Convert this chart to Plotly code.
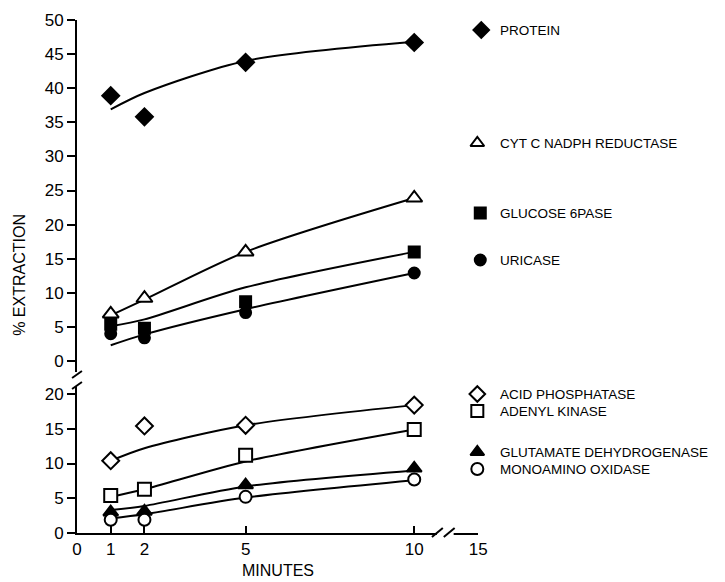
import plotly.graph_objects as go

# ---------------- data ----------------
minutes = [1, 2, 5, 10]
x_tick_vals = [0, 1, 2, 5, 10]
x_tick_text = ["0", "1", "2", "5", "10", "15"]

labels_upper = ["PROTEIN", "CYT C NADPH REDUCTASE", "GLUCOSE 6PASE", "URICASE"]
protein = [38.9, 35.8, 43.8, 46.7]
protein_fit = [36.9, 39.3, 44.0, 46.8]
cyt_c = [6.9, 9.2, 16.0, 23.9]
cyt_c_fit = [6.7, 9.0, 16.0, 23.9]
glucose6pase = [5.4, 4.8, 8.7, 16.0]
glucose6pase_fit = [5.1, 6.1, 10.8, 16.0]
uricase = [4.0, 3.4, 7.1, 12.9]
uricase_fit = [2.3, 3.9, 7.6, 12.9]

labels_lower = ["ACID PHOSPHATASE", "ADENYL KINASE", "GLUTAMATE DEHYDROGENASE", "MONOAMINO OXIDASE"]
acid_phosphatase = [10.4, 15.4, 15.5, 18.4]
acid_phosphatase_fit = [10.4, 12.2, 15.5, 18.4]
adenyl_kinase = [5.4, 6.3, 11.2, 14.9]
adenyl_kinase_fit = [5.2, 6.3, 10.3, 14.9]
glutamate_dh = [3.0, 3.1, 6.9, 9.3]
glutamate_dh_fit = [3.3, 3.9, 6.7, 9.0]
monoamino_oxidase = [1.9, 1.9, 5.2, 7.7]
monoamino_oxidase_fit = [2.1, 2.7, 5.1, 7.6]

# ---------------- geometry helpers (pixels -> paper) ----------------
FIG_W, FIG_H = 725, 582
L, R, T, B = 77, 720, 20, 533      # full plotting area (key lives on the right)
AX_R = 484                          # right end of the real x axis
W, H = R - L, B - T
X_MAX = 11.9                        # axis position used for the "15" tick after the break
def px(x):
    return (x - L) / W
def py(y):
    return (B - y) / H

FONT = "Liberation Sans, Arial, sans-serif"

fig = go.Figure()

upper_series = [
    (protein, protein_fit, "diamond", "black", 13),
    (cyt_c, cyt_c_fit, "triangle-up", "white", 14),
    (glucose6pase, glucose6pase_fit, "square", "black", 11),
    (uricase, uricase_fit, "circle", "black", 11),
]
lower_series = [
    (acid_phosphatase, acid_phosphatase_fit, "diamond", "white", 13),
    (adenyl_kinase, adenyl_kinase_fit, "square", "white", 13),
    (glutamate_dh, glutamate_dh_fit, "triangle-up", "black", 13),
    (monoamino_oxidase, monoamino_oxidase_fit, "circle", "white", 12),
]

for series, yax in ((upper_series, "y"), (lower_series, "y2")):
    for vals, fit, sym, fill, size in series:
        fig.add_trace(go.Scatter(
            x=minutes, y=fit, mode="lines", xaxis="x", yaxis=yax,
            line=dict(color="black", width=2, shape="spline", smoothing=0.8),
            hoverinfo="skip", showlegend=False))
    for vals, fit, sym, fill, size in series:
        fig.add_trace(go.Scatter(
            x=minutes, y=vals, mode="markers", xaxis="x", yaxis=yax,
            marker=dict(symbol=sym, size=size, color=fill, opacity=1,
                        line=dict(color="black", width=2)),
            cliponaxis=False, showlegend=False))

# ---------------- key (markers + labels at the right) ----------------
key_rows_px = [30, 143, 213, 260, 394, 411, 452, 469]
key_marker_x_px = [487, 483, 486, 486, 483, 483, 483, 483]
key_text_x_px = 504
all_labels = labels_upper + labels_lower
all_series = upper_series + lower_series
fig.add_trace(go.Scatter(
    x=key_marker_x_px, y=key_rows_px,
    mode="markers", xaxis="x3", yaxis="y3",
    marker=dict(symbol=[s[2] for s in all_series],
                size=[min(s[4], 12) for s in all_series],
                color=[s[3] for s in all_series], opacity=1,
                line=dict(color="black", width=2)),
    cliponaxis=False, showlegend=False, hoverinfo="skip"))

annotations = []
for lab, yy in zip(all_labels, key_rows_px):
    annotations.append(dict(
        text=lab, xref="paper", yref="paper", x=px(key_text_x_px), y=py(yy),
        xanchor="left", yanchor="middle", showarrow=False,
        font=dict(family=FONT, size=13.5, color="black")))

annotations.append(dict(
    text="% EXTRACTION", xref="paper", yref="paper", x=px(18), y=py(275),
    textangle=-90, showarrow=False, xanchor="center", yanchor="middle",
    font=dict(family=FONT, size=16, color="black")))
annotations.append(dict(
    text="MINUTES", xref="paper", yref="paper", x=px(281), y=py(570),
    showarrow=False, xanchor="center", yanchor="middle",
    font=dict(family=FONT, size=16, color="black")))

line_k = dict(color="black", width=2)
shapes = [
    # y-axis break
    dict(type="line", xref="paper", yref="paper", x0=px(76), x1=px(76), y0=py(361), y1=py(372), line=line_k),
    dict(type="line", xref="paper", yref="paper", x0=px(72), y0=py(378), x1=px(82), y1=py(371), line=line_k),
    dict(type="line", xref="paper", yref="paper", x0=px(72), y0=py(389), x1=px(82), y1=py(382), line=line_k),
    dict(type="line", xref="paper", yref="paper", x0=px(76), x1=px(76), y0=py(386), y1=py(394), line=line_k),
    # x-axis break
    dict(type="rect", xref="paper", yref="paper", x0=px(442), x1=px(459), y0=py(529), y1=py(537),
         fillcolor="white", line=dict(width=0)),
    dict(type="line", xref="paper", yref="paper", x0=px(437), y0=py(537), x1=px(448), y1=py(528), line=line_k),
    dict(type="line", xref="paper", yref="paper", x0=px(449), y0=py(537), x1=px(460), y1=py(528), line=line_k),
]

tickfont = dict(family=FONT, size=17, color="black")
fig.update_layout(
    width=FIG_W, height=FIG_H, autosize=False,
    margin=dict(l=L, r=FIG_W - R, t=T, b=FIG_H - B, pad=0),
    paper_bgcolor="white", plot_bgcolor="rgba(0,0,0,0)",
    showlegend=False,
    xaxis=dict(domain=[0, px(AX_R)], range=[0, X_MAX], anchor="y2",
               tickvals=x_tick_vals + [X_MAX], ticktext=x_tick_text,
               ticks="inside", ticklen=7, tickwidth=2, tickcolor="black",
               showline=True, linewidth=2, linecolor="black",
               showgrid=False, zeroline=False, tickfont=tickfont, fixedrange=True),
    yaxis=dict(domain=[py(361), 1], range=[0, 50], anchor="x",
               tickvals=list(range(0, 51, 5)),
               ticks="outside", ticklen=8, tickwidth=2, tickcolor="black",
               showline=True, linewidth=2, linecolor="black",
               showgrid=False, zeroline=False, tickfont=tickfont, fixedrange=True),
    yaxis2=dict(domain=[0, py(394)], range=[0, 20], anchor="x",
                tickvals=list(range(0, 21, 5)),
                ticks="outside", ticklen=8, tickwidth=2, tickcolor="black",
                showline=True, linewidth=2, linecolor="black",
                showgrid=False, zeroline=False, tickfont=tickfont, fixedrange=True),
    xaxis3=dict(domain=[0, 1], range=[L, R], anchor="y3", visible=False, fixedrange=True),
    yaxis3=dict(domain=[0, 1], range=[B, T], anchor="x3", visible=False, fixedrange=True),
    annotations=annotations,
    shapes=shapes,
)

fig.write_html("out.html", config={"displayModeBar": False},
               post_script="document.body.style.margin='0';document.body.style.overflow='hidden';")
